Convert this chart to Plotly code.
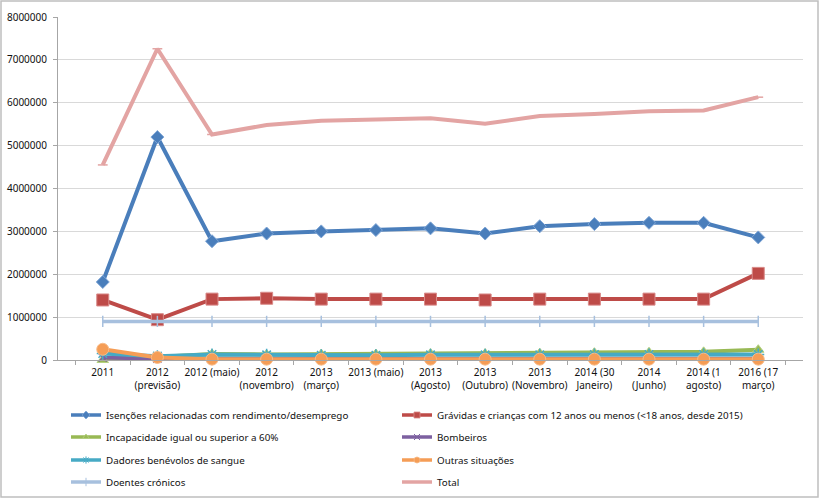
import plotly.graph_objects as go

categories = ["2011", "2012<br>(previsão)", "2012 (maio)", "2012<br>(novembro)", "2013<br>(março)",
              "2013 (maio)", "2013<br>(Agosto)", "2013<br>(Outubro)", "2013<br>(Novembro)",
              "2014 (30<br>Janeiro)", "2014<br>(Junho)", "2014 (1<br>agosto)", "2016 (17<br>março)"]

isencoes = [1820000, 5200000, 2770000, 2950000, 3000000, 3030000, 3070000, 2950000, 3120000, 3170000, 3200000, 3200000, 2860000]
gravidas = [1400000, 940000, 1420000, 1440000, 1420000, 1420000, 1420000, 1400000, 1420000, 1420000, 1420000, 1420000, 2020000]
incapacidade = [0, 80000, 140000, 130000, 140000, 140000, 150000, 150000, 160000, 170000, 180000, 190000, 240000]
bombeiros = [60000, 30000, 30000, 30000, 30000, 30000, 30000, 30000, 30000, 30000, 30000, 30000, 30000]
dadores = [150000, 90000, 130000, 120000, 110000, 110000, 120000, 120000, 120000, 130000, 130000, 130000, 130000]
outras = [250000, 60000, 20000, 20000, 20000, 20000, 20000, 20000, 20000, 20000, 20000, 20000, 20000]
doentes = [900000] * 13
total = [4550000, 7260000, 5260000, 5480000, 5580000, 5600000, 5640000, 5510000, 5690000, 5740000, 5800000, 5820000, 6130000]

names = ["Isenções relacionadas com rendimento/desemprego",
         "Grávidas e crianças com 12 anos ou menos (<18 anos, desde 2015)",
         "Incapacidade igual ou superior a 60%", "Bombeiros",
         "Dadores benévolos de sangue", "Outras situações",
         "Doentes crónicos", "Total"]

series = [isencoes, gravidas, incapacidade, bombeiros, dadores, outras, doentes, total]
colors = ["#4A7EBB", "#BE4B48", "#98B954", "#7D60A0", "#46AAC5", "#F59D56", "#A7C0DE", "#E3A4A3"]
mlines = ["#7FA6D6", "#D98A88", "#B5D183", "#9E86BE", "#7CC6DB", "#F8BB88", "#A7C0DE", "#E3A4A3"]
symbols = ["diamond", "square", "triangle-up", "x-thin-open", "asterisk-open", "circle", "line-ns-open", "line-ew-open"]
sizes = [10, 12, 10, 8, 10, 12, 8, 7]

L, R, T, B = 58, 17, 17, 140
W, H = 820, 500
pw, ph = W - L - R, H - T - B

def px(x):
    return (x - L) / pw

def py(y):
    return (H - B - y) / ph

FAM = "Noto Sans, DejaVu Sans, sans-serif"
font = dict(family=FAM, size=9.8, color="#111111")
tickfont = dict(family=FAM, size=10, color="#111111")

fig = go.Figure()
for i, (nm, ys) in enumerate(zip(names, series)):
    open_sym = symbols[i].endswith("open")
    mk_line = dict(color=colors[i] if open_sym else mlines[i], width=1.5 if open_sym else 1)
    fig.add_trace(go.Scatter(
        x=categories, y=ys, name=nm, mode="lines+markers", showlegend=False,
        line=dict(color=colors[i], width=4 if i != 6 else 3.5),
        marker=dict(symbol=symbols[i], size=sizes[i], color=colors[i], line=mk_line),
        cliponaxis=False,
    ))

legend_layouts = {}
rows_y = [415, 437, 460, 482]
for i, nm in enumerate(names):
    open_sym = symbols[i].endswith("open")
    mk_line = dict(color=colors[i] if open_sym else mlines[i], width=1 if open_sym else 0.8)
    key = "legend" if i == 0 else "legend%d" % (i + 1)
    fig.add_trace(go.Scatter(
        x=[None], y=[None], name=nm, mode="lines+markers", legend=key,
        line=dict(color=colors[i], width=3.5),
        marker=dict(symbol=symbols[i], size=6, color=colors[i], line=mk_line),
    ))
    col = i % 2
    row = i // 2
    legend_layouts[key] = dict(xref="container", yref="container",
                               x=(66 if col == 0 else 397) / W, xanchor="left",
                               y=1 - rows_y[row] / H, yanchor="middle",
                               font=font, bgcolor="rgba(0,0,0,0)", itemwidth=30,
                               borderwidth=0)

fig.update_layout(
    width=W, height=H, margin=dict(l=L, r=R, t=T, b=B, autoexpand=False),
    paper_bgcolor="white", plot_bgcolor="white",
    font=font, showlegend=True,
    xaxis=dict(type="category", showgrid=False, showline=True, linecolor="#A6A6A6", linewidth=1,
               ticks="outside", tickson="boundaries", ticklen=4, tickcolor="#A6A6A6",
               tickfont=tickfont, ticklabelstandoff=3,
               tickangle=0, fixedrange=True, automargin=False),
    yaxis=dict(range=[0, 8000000], dtick=1000000, tickformat="d", showgrid=True, gridcolor="#D9D9D9",
               showline=True, linecolor="#A6A6A6", linewidth=1, ticks="outside", ticklen=4,
               tickcolor="#A6A6A6", zeroline=False, automargin=False, ticklabelstandoff=4,
               tickfont=tickfont),
    shapes=[dict(type="rect", xref="paper", yref="paper", x0=px(1), x1=px(818), y0=py(497), y1=py(1),
                 line=dict(color="#BFBFBF", width=1.5), fillcolor="rgba(0,0,0,0)", layer="below")],
    **legend_layouts,
)

fig.write_html("out.html", config={"displayModeBar": False},
               post_script="document.body.style.margin='0';document.body.style.overflow='hidden';")
